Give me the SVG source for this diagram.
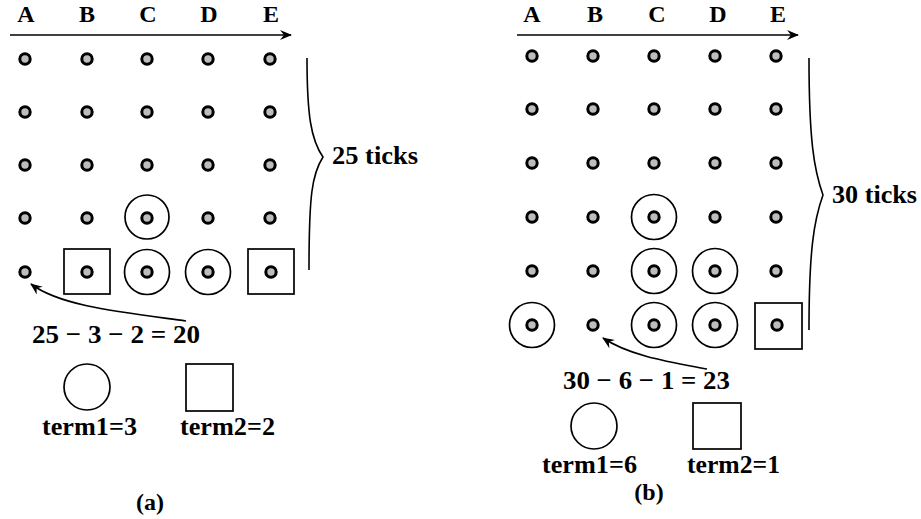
<svg xmlns="http://www.w3.org/2000/svg" width="921" height="519" viewBox="0 0 921 519">
<defs>
<style>
.t{font-family:"Liberation Serif","Times New Roman",Times,serif;font-weight:bold;fill:#000}
.h{font-size:24px;text-anchor:middle}
.m{font-size:26px}
.d{fill:#bdbdbd;stroke:#000;stroke-width:3}
.o{fill:none;stroke:#000;stroke-width:1.7}
.c{fill:none;stroke:#000;stroke-width:1.6}
</style>
<marker id="ah" viewBox="0 0 12 10" refX="11" refY="5" markerWidth="12" markerHeight="10" markerUnits="userSpaceOnUse" orient="auto">
<path d="M0,0 L12,5 L0,10 L4,5 z" fill="#000"/>
</marker>
<circle id="dot" r="5.2" class="d"/>
</defs>
<rect width="921" height="519" fill="#fff"/>

<g id="panel-a">
<g id="a-headers">
<text class="t h" x="26" y="22">A</text>
<text class="t h" x="87" y="22">B</text>
<text class="t h" x="148" y="22">C</text>
<text class="t h" x="209" y="22">D</text>
<text class="t h" x="271" y="22">E</text>
</g>
<g id="a-dots">
<use href="#dot" x="25" y="59"/><use href="#dot" x="87" y="59"/><use href="#dot" x="147" y="59"/><use href="#dot" x="208" y="59"/><use href="#dot" x="270" y="59"/>
<use href="#dot" x="25" y="112"/><use href="#dot" x="87" y="112"/><use href="#dot" x="147" y="112"/><use href="#dot" x="208" y="112"/><use href="#dot" x="270" y="112"/>
<use href="#dot" x="25" y="165"/><use href="#dot" x="87" y="165"/><use href="#dot" x="147" y="165"/><use href="#dot" x="208" y="165"/><use href="#dot" x="270" y="165"/>
<use href="#dot" x="25" y="218"/><use href="#dot" x="87" y="218"/><use href="#dot" x="147" y="218"/><use href="#dot" x="208" y="218"/><use href="#dot" x="270" y="218"/>
<use href="#dot" x="25" y="272"/><use href="#dot" x="87" y="272"/><use href="#dot" x="147" y="272"/><use href="#dot" x="208" y="272"/><use href="#dot" x="271" y="272"/>
</g>
<g id="a-marks">
<circle class="o" cx="147" cy="217" r="22"/>
<circle class="o" cx="147" cy="272" r="22.5"/>
<circle class="o" cx="208" cy="272" r="22.5"/>
<rect class="o" x="64" y="249" width="46" height="45"/>
<rect class="o" x="248" y="249" width="46" height="45"/>
</g>
<g id="a-ticks-label"><text class="t m" x="332" y="164" textLength="86" lengthAdjust="spacingAndGlyphs">25 ticks</text></g>
<g id="a-formula"><text class="t m" x="32" y="343" textLength="168" lengthAdjust="spacingAndGlyphs">25 − 3 − 2 = 20</text></g>
<g id="a-legend-term1">
<circle class="o" cx="87" cy="387" r="23"/>
<text class="t m" x="42" y="435" textLength="95" lengthAdjust="spacingAndGlyphs">term1=3</text>
</g>
<g id="a-legend-term2">
<rect class="o" x="186" y="364" width="47" height="47"/>
<text class="t m" x="180" y="435" textLength="95" lengthAdjust="spacingAndGlyphs">term2=2</text>
</g>
<g id="a-caption"><text class="t" font-size="24" text-anchor="middle" x="150" y="510">(a)</text></g>
</g>

<g id="panel-b">
<g id="b-headers">
<text class="t h" x="532" y="22">A</text>
<text class="t h" x="595" y="22">B</text>
<text class="t h" x="657" y="22">C</text>
<text class="t h" x="718" y="22">D</text>
<text class="t h" x="778" y="22">E</text>
</g>
<g id="b-dots">
<use href="#dot" x="532" y="56"/><use href="#dot" x="593" y="56"/><use href="#dot" x="654" y="56"/><use href="#dot" x="715" y="56"/><use href="#dot" x="776" y="56"/>
<use href="#dot" x="532" y="109"/><use href="#dot" x="593" y="109"/><use href="#dot" x="654" y="109"/><use href="#dot" x="715" y="109"/><use href="#dot" x="776" y="109"/>
<use href="#dot" x="532" y="163"/><use href="#dot" x="593" y="163"/><use href="#dot" x="654" y="163"/><use href="#dot" x="715" y="163"/><use href="#dot" x="776" y="163"/>
<use href="#dot" x="532" y="217"/><use href="#dot" x="593" y="217"/><use href="#dot" x="654" y="217"/><use href="#dot" x="715" y="217"/><use href="#dot" x="776" y="217"/>
<use href="#dot" x="532" y="271"/><use href="#dot" x="593" y="271"/><use href="#dot" x="654" y="271"/><use href="#dot" x="715" y="271"/><use href="#dot" x="776" y="271"/>
<use href="#dot" x="532" y="325"/><use href="#dot" x="593" y="325"/><use href="#dot" x="654" y="325"/><use href="#dot" x="715" y="325"/><use href="#dot" x="777" y="325"/>
</g>
<g id="b-marks">
<circle class="o" cx="654" cy="217" r="22.5"/>
<circle class="o" cx="654" cy="271" r="22.5"/>
<circle class="o" cx="715" cy="271" r="22.5"/>
<circle class="o" cx="532" cy="325" r="22.5"/>
<circle class="o" cx="654" cy="325" r="22.5"/>
<circle class="o" cx="715" cy="325" r="22.5"/>
<rect class="o" x="755" y="303" width="47" height="46"/>
</g>
<g id="b-ticks-label"><text class="t m" x="832" y="203" textLength="85" lengthAdjust="spacingAndGlyphs">30 ticks</text></g>
<g id="b-formula"><text class="t m" x="563" y="389" textLength="167" lengthAdjust="spacingAndGlyphs">30 − 6 − 1 = 23</text></g>
<g id="b-legend-term1">
<circle class="o" cx="594" cy="426" r="23"/>
<text class="t m" x="542" y="473" textLength="95" lengthAdjust="spacingAndGlyphs">term1=6</text>
</g>
<g id="b-legend-term2">
<rect class="o" x="693" y="403" width="48" height="46"/>
<text class="t m" x="687" y="473" textLength="93" lengthAdjust="spacingAndGlyphs">term2=1</text>
</g>
<g id="b-caption"><text class="t" font-size="24" text-anchor="middle" x="649" y="500">(b)</text></g>
</g>

<g id="connectors">
<line class="c" x1="10" y1="35" x2="291" y2="35" marker-end="url(#ah)"/>
<line class="c" x1="517" y1="35" x2="798" y2="35" marker-end="url(#ah)"/>
<path class="c" d="M186,321 C120,312 60,306 31,284" marker-end="url(#ah)"/>
<path class="c" d="M707,369 C670,362 630,356 603,338" marker-end="url(#ah)"/>
<path class="c" stroke-width="2" d="M307,58 C307,115 311,140 323,157 C312,174 309,195 309,270"/>
<path class="c" stroke-width="2" d="M809,58 C809,140 814,170 823,195 C814,220 809,250 809,330"/>
</g>
</svg>
